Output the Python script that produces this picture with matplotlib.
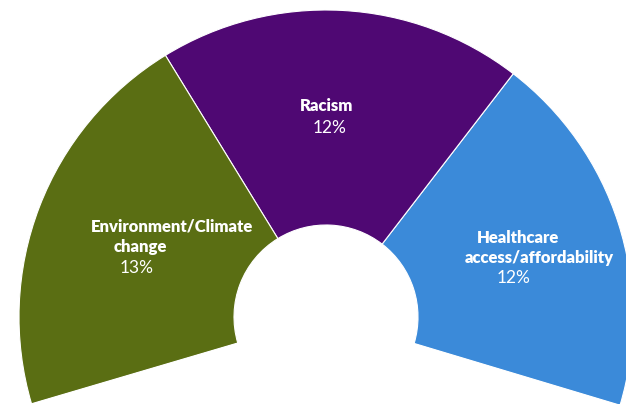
import matplotlib.pyplot as plt

# slices, counter-clockwise from the lower right
categories = ['Healthcare access/affordability', 'Racism', 'Environment/Climate change', '']
shares = [12, 12, 13, 25.5]   # last one is the blank (unshown) remainder
colors = ['#3b8ad9', '#4f0873', '#5a6e13', 'white']

# label lines: (text, x, y, bold) in pixel space
label_lines = [
    ('Racism', 327, 106, True),
    ('12%', 330, 128, False),
    ('Environment/Climate', 172, 227, True),
    ('change', 140, 247, True),
    ('13%', 137, 268, False),
    ('Healthcare', 518, 238, True),
    ('access/affordability', 539, 258, True),
    ('12%', 514, 278, False),
]

W, H = 626, 404
cx, cy = 326, 317
r_out, r_in = 307, 92

fig = plt.figure(figsize=(W / 100, H / 100), dpi=100)
ax = fig.add_axes([0, 0, 1, 1])
ax.set_xlim(0, W)
ax.set_ylim(0, H)
ax.set_aspect('equal')
ax.axis('off')

wedges, _ = ax.pie(shares, colors=colors, startangle=-16.7, counterclock=True,
                   radius=r_out, center=(cx, H - cy),
                   wedgeprops=dict(width=r_out - r_in, edgecolor='white', linewidth=0.8))
wedges[-1].set_edgecolor('none')
ax.set_xlim(0, W)
ax.set_ylim(0, H)

for txt, x, y, bold in label_lines:
    ax.text(x, H - y, txt, color='white', ha='center', va='center',
            family=['Lato', 'DejaVu Sans'], fontsize=12.5 if not bold else 12,
            fontweight='heavy' if bold else 'normal')

fig.savefig('out.png', dpi=100)
